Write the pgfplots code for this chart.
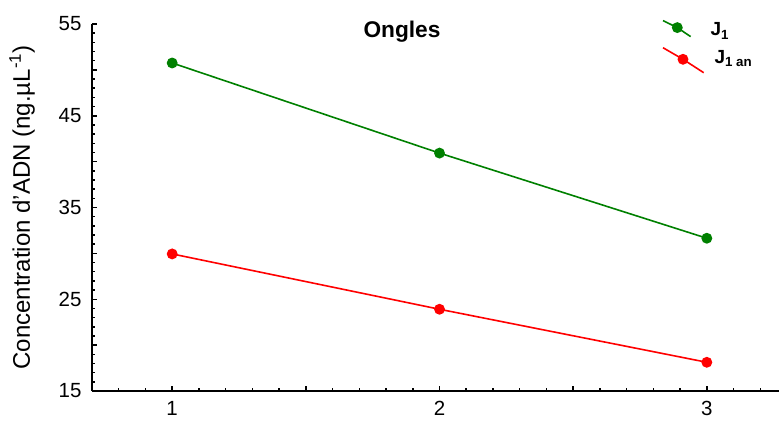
\documentclass[border=0pt]{standalone}
\usepackage{pgfplots}
\pgfplotsset{compat=1.18}
\usepackage{fontspec}
\setmainfont{Liberation Sans}

\definecolor{serieJ}{RGB}{0,128,0}
\definecolor{serieJan}{RGB}{255,0,0}

% slanted legend samples, marker in the middle of the segment
\pgfplotsset{
  legimgJ/.style={legend image code/.code={%
    \draw[mark repeat=2,mark phase=2,##1] plot coordinates {(0pt,7pt)(14.3pt,0pt)(27.6pt,-9pt)};}},
  legimgJan/.style={legend image code/.code={%
    \draw[mark repeat=2,mark phase=2,##1] plot coordinates {(0pt,11.6pt)(20pt,0pt)(40.7pt,-13.4pt)};}},
}
\newcommand\legfont{\fontsize{19}{22}\selectfont\bfseries}

% Concentration d'ADN (ng/uL) par jour de prelevement
\pgfplotstableread{
jour conc
1 50.75
2 40.93
3 31.65
}\tableJ
\pgfplotstableread{
jour conc
1 29.94
2 23.91
3 18.13
}\tableJan

\begin{document}
\begin{tikzpicture}
\path[use as bounding box] (-92pt,-38pt) rectangle (687pt,391pt);
\begin{axis}[
  scale only axis, width=687pt, height=367pt,
  xmin=0.7, xmax=3.27, ymin=15, ymax=55,
  axis x line*=bottom, axis y line*=left,
  axis line style={line width=1.5pt, -},
  tick align=inside,
  major tick length=5pt, minor tick length=3pt,
  every tick/.style={line width=1.5pt, black},
  xtick={1,1.5,2,2.5,3}, xticklabels={1,,2,,3},
  minor xtick={0.8,0.9,1.1,1.2,1.3,1.4,1.6,1.7,1.8,1.9,2.1,2.2,2.3,2.4,2.6,2.7,2.8,2.9,3.1,3.2},
  ytick={15,20,...,55}, yticklabels={15,,25,,35,,45,,55},
  minor ytick={16,17,18,19,21,22,23,24,26,27,28,29,31,32,33,34,36,37,38,39,41,42,43,44,46,47,48,49,51,52,53,54},
  tick label style={font=\fontsize{20.5}{24}\selectfont},
  xticklabel style={yshift=-7pt},
  yticklabel style={xshift=-7pt},
  ylabel={Concentration d’ADN (ng.µL\textsuperscript{-1})},
  ylabel style={font=\fontsize{24}{28}\selectfont, at={(axis description cs:-0.1019,0.5)}, anchor=center},
  clip=false,
  legend style={draw=none, fill=none, at={(rel axis cs:0.8297,1.012)}, anchor=north west,
    row sep=9.5pt, inner sep=0pt},
  legend cell align=left,
]
\addplot[serieJ, line width=1.6pt, mark=*, mark size=4.6pt, legimgJ]
  table[x=jour, y=conc] {\tableJ};
\addlegendentry{\legfont\hspace{4pt}\raisebox{-5pt}{J\textsubscript{1}}}
\addplot[serieJan, line width=1.6pt, mark=*, mark size=4.6pt, legimgJan]
  table[x=jour, y=conc] {\tableJan};
\addlegendentry{\legfont\hspace{8pt}\raisebox{3pt}{J\textsubscript{1 an}}}
\node[font=\bfseries\fontsize{22.7}{26}\selectfont, anchor=base] at (rel axis cs:0.4512,0.962) {Ongles};
\end{axis}
\end{tikzpicture}
\end{document}
